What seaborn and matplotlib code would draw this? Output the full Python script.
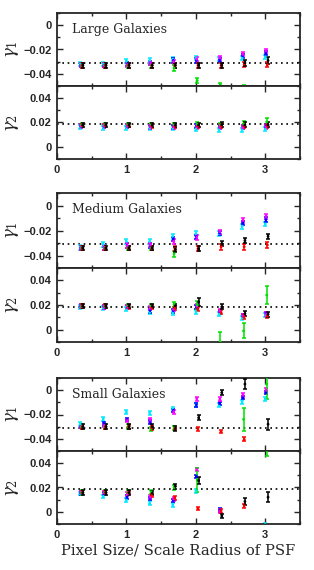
import numpy as np
import pandas as pd
import matplotlib
matplotlib.use("Agg")
import matplotlib.pyplot as plt
import seaborn as sns
from matplotlib.ticker import MultipleLocator, FuncFormatter

nan = np.nan

pixel_size = [1/3, 2/3, 1.0, 4/3, 5/3, 2.0, 7/3, 8/3, 3.0]
series_names = ["cyan", "blue", "magenta", "green", "red", "black"]
series_colors = ["#00e8ff", "#0000ff", "#ff00ff", "#00e000", "#ff0000", "#000000"]
x_shift = [0.0, 0.008, 0.012, 0.02, 0.03, 0.04]

true_g1 = -0.031
true_g2 = 0.0185

# rows follow series_names
large_g1 = [
    [-0.032, -0.032, -0.0295, -0.029, -0.028, -0.027, -0.0275, -0.027, -0.026],
    [-0.033, -0.033, -0.032, -0.031, -0.029, -0.029, -0.0285, -0.025, -0.023],
    [-0.033, -0.033, -0.0325, -0.031, -0.030, -0.028, -0.027, -0.024, -0.021],
    [-0.033, -0.033, -0.033, -0.033, -0.035, -0.0455, -0.049, -0.0505, nan],
    [-0.033, -0.033, -0.033, -0.033, -0.033, -0.033, -0.033, -0.032, -0.0325],
    [-0.033, -0.033, -0.033, -0.033, -0.033, -0.033, -0.033, -0.031, -0.029],
]
large_g1_err = [
    [0.0017] * 9,
    [0.0017] * 9,
    [0.0017] * 9,
    [0.0018, 0.0018, 0.0018, 0.0018, 0.0025, 0.0022, 0.0018, 0.0015, 0.0015],
    [0.0018, 0.0018, 0.0018, 0.0018, 0.0018, 0.0018, 0.0018, 0.002, 0.0022],
    [0.0018, 0.0018, 0.0018, 0.0018, 0.0018, 0.0018, 0.0018, 0.0025, 0.0028],
]
large_g2 = [
    [0.016, 0.0158, 0.0158, 0.0152, 0.0152, 0.0145, 0.014, 0.014, 0.0145],
    [0.017, 0.017, 0.017, 0.0165, 0.0165, 0.0168, 0.0165, 0.0165, 0.017],
    [0.0172, 0.017, 0.017, 0.0165, 0.0165, 0.0165, 0.0165, 0.016, 0.0165],
    [0.018, 0.018, 0.018, 0.018, 0.018, 0.0185, 0.018, 0.019, 0.0205],
    [0.0175, 0.0175, 0.0175, 0.0172, 0.017, 0.017, 0.017, 0.017, 0.017],
    [0.0178, 0.0178, 0.0178, 0.0178, 0.0178, 0.018, 0.0182, 0.018, 0.018],
]
large_g2_err = [
    [0.0016] * 9,
    [0.0016] * 9,
    [0.0016] * 9,
    [0.0016, 0.0016, 0.0016, 0.0016, 0.0018, 0.002, 0.0018, 0.002, 0.003],
    [0.0016] * 9,
    [0.0016, 0.0016, 0.0016, 0.0016, 0.0016, 0.0018, 0.002, 0.002, 0.002],
]

medium_g1 = [
    [-0.0335, -0.031, -0.0287, -0.0287, -0.0247, -0.0225, -0.0225, -0.0166, -0.0147],
    [-0.034, -0.0335, -0.032, -0.032, -0.0268, -0.025, -0.022, -0.014, -0.0113],
    [-0.034, -0.0335, -0.032, -0.0315, -0.0287, -0.0255, -0.021, -0.0118, -0.0086],
    [-0.034, -0.034, -0.034, -0.034, -0.0386, nan, nan, nan, nan],
    [-0.034, -0.034, -0.034, -0.034, -0.0345, -0.0345, -0.033, -0.033, -0.0315],
    [-0.034, -0.034, -0.034, -0.034, -0.035, -0.0346, -0.0306, -0.028, -0.0247],
]
medium_g1_err = [
    [0.0018] * 9,
    [0.0018] * 9,
    [0.0018] * 9,
    [0.0018, 0.0018, 0.0018, 0.0018, 0.0026, 0.0018, 0.0018, 0.0018, 0.0018],
    [0.0018, 0.0018, 0.0018, 0.0018, 0.0018, 0.0018, 0.0022, 0.0022, 0.0022],
    [0.0018, 0.0018, 0.0018, 0.0018, 0.0018, 0.002, 0.002, 0.002, 0.0022],
]
medium_g2 = [
    [0.0185, 0.0176, 0.0164, 0.014, 0.0135, 0.0146, 0.0125, 0.0096, 0.012],
    [0.019, 0.0185, 0.018, 0.0155, 0.0155, 0.018, 0.0146, 0.011, 0.013],
    [0.019, 0.0185, 0.018, 0.0175, 0.0165, 0.019, 0.015, 0.011, 0.0125],
    [0.019, 0.019, 0.019, 0.019, 0.0206, 0.020, -0.01, -0.001, 0.028],
    [0.019, 0.019, 0.0185, 0.018, 0.0176, 0.017, 0.014, 0.0105, 0.011],
    [0.019, 0.019, 0.019, 0.019, 0.0194, 0.0225, 0.0185, 0.013, 0.0125],
]
medium_g2_err = [
    [0.0016] * 9,
    [0.0016] * 9,
    [0.0016] * 9,
    [0.0016, 0.0016, 0.0016, 0.0016, 0.002, 0.003, 0.008, 0.006, 0.0073],
    [0.0016] * 9,
    [0.0016, 0.0016, 0.0016, 0.0016, 0.0018, 0.003, 0.002, 0.002, 0.002],
]

small_g1 = [
    [-0.028, -0.0235, -0.018, -0.0185, -0.0157, -0.012, -0.0124, -0.0097, -0.0075],
    [-0.030, -0.028, -0.024, -0.026, -0.0166, -0.012, -0.011, -0.006, -0.002],
    [-0.030, -0.029, -0.025, -0.0245, -0.0177, -0.007, -0.0075, -0.004, 0.000],
    [-0.030, -0.030, -0.030, -0.032, -0.031, nan, nan, -0.024, 0.005],
    [-0.030, -0.030, -0.030, -0.031, -0.0315, -0.0317, -0.034, -0.0405, nan],
    [-0.030, -0.030, -0.030, -0.030, -0.0315, -0.0226, -0.002, 0.005, -0.028],
]
small_g1_err = [
    [0.0015] * 9,
    [0.0015] * 9,
    [0.0015] * 9,
    [0.0018, 0.0018, 0.0018, 0.0018, 0.0018, 0.0018, 0.0018, 0.0095, 0.0125],
    [0.0016] * 9,
    [0.0018, 0.0018, 0.0018, 0.0018, 0.0018, 0.002, 0.002, 0.004, 0.0045],
]
small_g2 = [
    [0.015, 0.0127, 0.0099, 0.007, 0.0056, 0.017, nan, nan, -0.0105],
    [0.0155, 0.015, 0.012, 0.011, 0.0093, 0.029, 0.0014, nan, nan],
    [0.0158, 0.0155, 0.0144, 0.012, 0.0107, 0.0347, 0.0005, nan, nan],
    [0.0158, 0.016, 0.0158, 0.0164, 0.020, 0.026, nan, nan, 0.06],
    [0.0158, 0.0158, 0.0158, 0.0135, 0.0113, 0.0028, 0.0008, 0.005, nan],
    [0.0158, 0.0158, 0.0158, 0.0155, 0.021, 0.0257, -0.0034, 0.0085, 0.012],
]
small_g2_err = [
    [0.0015] * 9,
    [0.0015] * 9,
    [0.0015] * 9,
    [0.0018, 0.0018, 0.0018, 0.0018, 0.002, 0.01, 0.0018, 0.0018, 0.014],
    [0.0015] * 9,
    [0.0018, 0.0018, 0.0018, 0.0018, 0.002, 0.003, 0.002, 0.0025, 0.004],
]

titles = ["Large Galaxies", "Medium Galaxies", "Small Galaxies"]
panels = [
    (large_g1, large_g1_err, large_g2, large_g2_err),
    (medium_g1, medium_g1_err, medium_g2, medium_g2_err),
    (small_g1, small_g1_err, small_g2, small_g2_err),
]

sns.set_style("ticks")
plt.rcParams["font.family"] = ["Liberation Sans", "DejaVu Sans"]
plt.rcParams["mathtext.fontset"] = "dejavuserif"

W, H = 314, 570
fig = plt.figure(figsize=(W / 100, H / 100), dpi=100)

# (top, divider, bottom) pixel edges of the gamma_1 / gamma_2 panels in each group
group_px = [(13, 86, 159), (193, 268, 342), (378, 451, 524)]
left_px, right_px = 57, 300


def make_ax(top, bottom):
    return fig.add_axes([left_px / W, 1 - bottom / H, (right_px - left_px) / W, (bottom - top) / H])


def minus_fmt(v, pos):
    if abs(v) < 1e-9:
        return "0"
    return ("%.2f" % v).replace("-", "\u2212")


def style_ax(ax, ylim, show_x):
    ax.set_xlim(0, 3.5)
    ax.set_ylim(*ylim)
    ax.xaxis.set_major_locator(MultipleLocator(1))
    ax.xaxis.set_minor_locator(MultipleLocator(0.5))
    ax.yaxis.set_major_locator(MultipleLocator(0.02))
    ax.yaxis.set_minor_locator(MultipleLocator(0.01))
    ax.yaxis.set_major_formatter(FuncFormatter(minus_fmt))
    ax.tick_params(which="both", direction="in", top=True, right=True, width=1.0)
    ax.tick_params(which="major", length=4.5, labelsize=8, pad=4)
    ax.tick_params(which="minor", length=2.5)
    for lbl in ax.get_xticklabels() + ax.get_yticklabels():
        lbl.set_fontweight("bold")
    if not show_x:
        ax.tick_params(axis="x", labelbottom=False)
    for s in ax.spines.values():
        s.set_linewidth(1.3)
        s.set_visible(True)


def draw_series(ax, vals, errs):
    rows = []
    for i, name in enumerate(series_names):
        xs = [p + x_shift[i] for p in pixel_size]
        ax.errorbar(xs, vals[i], yerr=errs[i], fmt="none", ecolor=series_colors[i],
                    elinewidth=1.1, capsize=1.7, capthick=1.1, zorder=2 + i)
        for x, v in zip(xs, vals[i]):
            rows.append({"x": x, "y": v, "series": name})
    df = pd.DataFrame(rows).dropna()
    sns.scatterplot(data=df, x="x", y="y", hue="series", palette=dict(zip(series_names, series_colors)),
                    hue_order=series_names, s=4, linewidth=0, legend=False, ax=ax, zorder=9)
    ax.set_xlabel("")
    ax.set_ylabel("")


for g, (top, mid, bot) in enumerate(group_px):
    g1, g1e, g2, g2e = panels[g]
    ax1 = make_ax(top, mid)
    draw_series(ax1, g1, g1e)
    ax1.axhline(true_g1, color="black", ls=(0, (1, 2.2)), lw=1.2, zorder=1)
    style_ax(ax1, (-0.05, 0.01), False)
    ax1.set_ylabel(r"$\gamma_1$", fontsize=12)
    ax1.yaxis.set_label_coords(-0.15, 0.5)
    ax1.text(0.062, 0.78, titles[g], transform=ax1.transAxes, ha="left", va="center",
             fontsize=9, family="DejaVu Serif")

    ax2 = make_ax(mid, bot)
    draw_series(ax2, g2, g2e)
    ax2.axhline(true_g2, color="black", ls=(0, (1, 2.2)), lw=1.2, zorder=1)
    style_ax(ax2, (-0.01, 0.05), True)
    ax2.set_ylabel(r"$\gamma_2$", fontsize=12)
    ax2.yaxis.set_label_coords(-0.15, 0.5)

fig.text((left_px + right_px) / 2 / W, 1 - 551 / H, "Pixel Size/ Scale Radius of PSF",
         ha="center", va="center", fontsize=10.6, family="DejaVu Serif")

fig.savefig("out.png", dpi=100)
